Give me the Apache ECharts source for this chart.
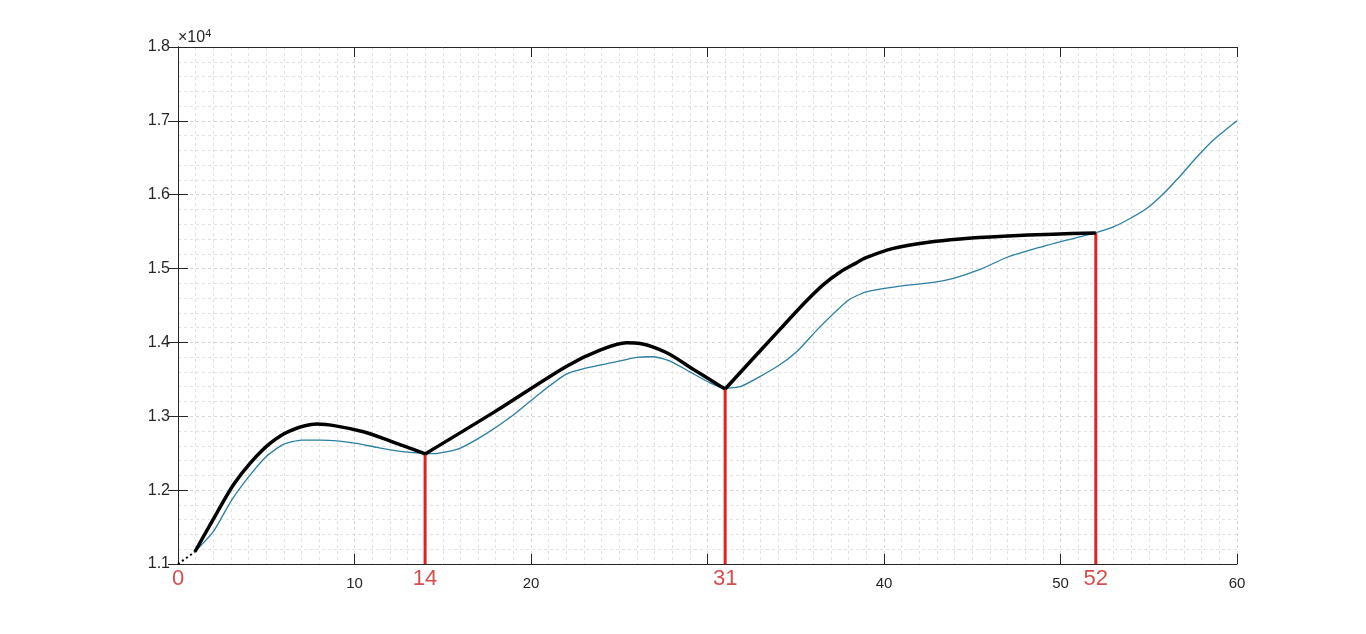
<!DOCTYPE html>
<html>
<head>
<meta charset="utf-8">
<script src="https://cdn.jsdelivr.net/npm/echarts@6/dist/echarts.min.js"></script>
<style>
    html, body { margin: 0; padding: 0; background: #fff; }
    #chart { width: 1366px; height: 634px; }
</style>
</head>
<body>
<div id="chart"></div>
<script>
// blue curve (x, value)
const blueX = [0.96, 2.0, 3.04, 4.08, 5.02, 5.97, 7.0, 8.05, 9.0, 10.1, 11.26, 12.4, 13.5, 14.2, 14.8,
    16.0, 17.49, 19.0, 20.5, 22.0, 23.15, 24.66, 25.99, 26.93, 27.88, 29.0, 30.14, 31.0, 31.94,
    33.92, 35.05, 36.37, 37.98, 39.0, 40.9, 42.8, 43.93, 45.44, 46.95, 48.46, 50.35, 51.96,
    53.0, 53.94, 54.88, 55.8, 56.77, 57.7, 58.65, 60];
const blueY = [11166, 11437, 11866, 12204, 12460, 12620, 12678, 12678, 12668, 12633, 12579, 12533, 12506, 12495, 12502,
    12570, 12768, 13016, 13310, 13570, 13656, 13729, 13797, 13806, 13747, 13602, 13453, 13378, 13409,
    13670, 13873, 14211, 14572, 14685, 14762, 14812, 14866, 14988, 15150, 15262, 15384, 15483,
    15564, 15678, 15813, 16007, 16250, 16503, 16737, 17000];

// black thick curve, three pieces joined at 14 and 31
const blackX1 = [0.96, 2.19, 3.13, 4.08, 5.21, 6.35, 7.86, 9.0, 10.5, 12.0, 13.33, 14.0];
const blackY1 = [11166, 11686, 12069, 12363, 12633, 12804, 12894, 12867, 12790, 12668, 12552, 12490];
const blackX2 = [14.0, 18.0, 22.02, 23.91, 25.42, 26.18, 27.69, 29.2, 30.33, 31.0];
const blackY2 = [12490, 13070, 13679, 13896, 13995, 13986, 13860, 13635, 13467, 13370];
const blackX3 = [31.0, 34.0, 35.6, 36.6, 37.5, 38.3, 39.02, 40.53, 42.42, 44.31, 46.76, 49.59, 52.0];
const blackY3 = [13370, 14150, 14560, 14790, 14950, 15060, 15150, 15273, 15354, 15402, 15438, 15466, 15483];

// dotted start segment
const startX = [0, 0.96];
const startY = [11000, 11166];

// red markers
const markX = [14, 31, 52];
const markTop = [12490, 13370, 15483];
const markLabels = [0, 14, 31, 52];

// axis ticks
const xHidden = [0, 30];

const zip = (xs, ys) => xs.map((x, i) => [x, ys[i]]);

const axisColor = '#262626';
const gridLine = { show: true, lineStyle: { type: [3, 3], color: '#d6d6d6', width: 1 } };
const minorLine = { show: true, lineStyle: { type: [3, 3], color: '#e2e2e2', width: 1 } };

let myChart = echarts.init(document.getElementById('chart'));

let series = [
    {
        name: 'blue',
        type: 'line',
        data: zip(blueX, blueY),
        showSymbol: false,
        smooth: 0.2,
        lineStyle: { color: '#2b7ea3', width: 1.3 },
        z: 2
    },
    {
        name: 'start',
        type: 'line',
        data: zip(startX, startY),
        showSymbol: false,
        lineStyle: { color: '#000', width: 2, type: [2, 3] },
        z: 3
    }
];
[[blackX1, blackY1], [blackX2, blackY2], [blackX3, blackY3]].forEach(p => {
    series.push({
        type: 'line',
        data: zip(p[0], p[1]),
        showSymbol: false,
        smooth: 0.3,
        lineStyle: { color: '#000', width: 3.5, join: 'miter' },
        z: 4
    });
});
markX.forEach((x, i) => {
    series.push({
        type: 'line',
        data: [[x, 11000], [x, markTop[i]]],
        showSymbol: false,
        lineStyle: { color: '#e02222', width: 3 },
        z: 3
    });
});
series.push({
    type: 'scatter',
    data: markLabels.map(v => [v, 11000]),
    symbolSize: 0,
    clip: false,
    label: {
        show: true,
        position: 'bottom',
        distance: 4,
        formatter: p => String(p.value[0]),
        color: '#cc2020',
        fontSize: 22,
        fontFamily: 'Liberation Sans'
    },
    z: 5
});

let option = {
    animation: false,
    backgroundColor: '#fff',
    textStyle: { fontFamily: 'Liberation Sans' },
    grid: { left: 178, right: 129, top: 47, bottom: 70, containLabel: false },
    xAxis: [
        {
            type: 'value',
            min: 0, max: 60, interval: 10,
            position: 'bottom',
            axisLine: { show: true, lineStyle: { color: axisColor, width: 1 } },
            axisTick: { show: true, inside: true, length: 10, lineStyle: { color: axisColor } },
            minorTick: { show: false, splitNumber: 10 },
            splitLine: gridLine,
            minorSplitLine: minorLine,
            axisLabel: {
                color: axisColor, fontSize: 15, margin: 12,
                formatter: v => (xHidden.indexOf(v) >= 0 ? '' : String(v))
            }
        },
        {
            type: 'value',
            min: 0, max: 60, interval: 10,
            position: 'top',
            axisLine: { show: true, lineStyle: { color: axisColor, width: 1 } },
            axisTick: { show: true, inside: true, length: 10, lineStyle: { color: axisColor } },
            axisLabel: { show: false },
            splitLine: { show: false }
        }
    ],
    yAxis: [
        {
            type: 'value',
            min: 11000, max: 18000, interval: 1000,
            position: 'left',
            name: '×10{sup|4}',
            nameLocation: 'end',
            nameGap: -1,
            nameTextStyle: {
                align: 'left', color: axisColor, fontSize: 16,
                rich: { sup: { fontSize: 11, verticalAlign: 'top', padding: [0, 0, 9, 0], color: axisColor } }
            },
            axisLine: { show: true, lineStyle: { color: axisColor, width: 1 } },
            axisTick: { show: true, inside: true, length: 10, lineStyle: { color: axisColor } },
            minorTick: { show: false, splitNumber: 5 },
            splitLine: gridLine,
            minorSplitLine: minorLine,
            axisLabel: {
                color: axisColor, fontSize: 16, margin: 8,
                formatter: v => (v / 10000).toFixed(1)
            }
        },
        {
            type: 'value',
            min: 11000, max: 18000, interval: 1000,
            position: 'right',
            axisLine: { show: true, lineStyle: { color: axisColor, width: 1 } },
            axisTick: { show: true, inside: true, length: 10, lineStyle: { color: axisColor } },
            axisLabel: { show: false },
            splitLine: { show: false }
        }
    ],
    series: series
};
myChart.setOption(option);
</script>
</body>
</html>
